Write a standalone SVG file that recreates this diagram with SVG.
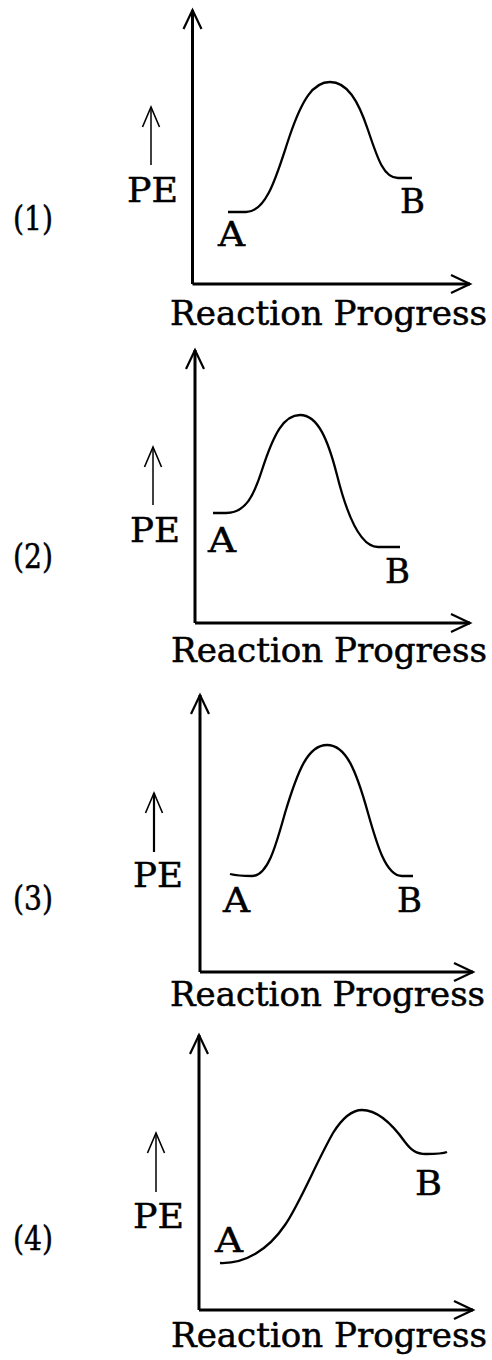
<svg xmlns="http://www.w3.org/2000/svg" width="492" height="1360" viewBox="0 0 492 1360">
<style>
.ax{stroke:#000;stroke-width:3;fill:none;marker-end:url(#ah)}
.pe{stroke:#000;stroke-width:1.5;fill:none;marker-end:url(#ahs)}
.cv{stroke:#000;stroke-width:2.3;fill:none;stroke-linecap:butt;stroke-linejoin:round}
text{font-family:"DejaVu Serif","Liberation Serif",serif;font-size:34px;fill:#000;stroke:#000;stroke-width:0.5}
.rp{font-size:33px}
</style>
<defs>
<marker id="ah" markerUnits="userSpaceOnUse" markerWidth="30" markerHeight="30" orient="auto" overflow="visible">
<path d="M-19,-9 L0,0 L-19,9" fill="none" stroke="#000" stroke-width="2.2" stroke-linejoin="miter"/>
</marker>
<marker id="ahs" markerUnits="userSpaceOnUse" markerWidth="30" markerHeight="30" orient="auto" overflow="visible">
<path d="M-20,-8.5 L0,0 L-20,8.5" fill="none" stroke="#000" stroke-width="1.6"/>
</marker>
</defs>

<g id="panel1">
<text x="13" y="230" textLength="40" lengthAdjust="spacingAndGlyphs">(1)</text>
<line class="pe" x1="151" y1="165" x2="151" y2="107"/>
<text x="127" y="202" textLength="51" lengthAdjust="spacingAndGlyphs">PE</text>
<text x="218" y="246" textLength="27" lengthAdjust="spacingAndGlyphs">A</text>
<text x="400" y="213" textLength="25" lengthAdjust="spacingAndGlyphs">B</text>
<text class="rp" x="170" y="325" textLength="317" lengthAdjust="spacingAndGlyphs">Reaction Progress</text>
</g>
<g id="panel2">
<text x="13" y="568" textLength="40" lengthAdjust="spacingAndGlyphs">(2)</text>
<line class="pe" x1="153" y1="505" x2="153" y2="447"/>
<text x="130" y="542" textLength="50" lengthAdjust="spacingAndGlyphs">PE</text>
<text x="208" y="552" textLength="28" lengthAdjust="spacingAndGlyphs">A</text>
<text x="385" y="583" textLength="25" lengthAdjust="spacingAndGlyphs">B</text>
<text class="rp" x="171" y="662" textLength="316" lengthAdjust="spacingAndGlyphs">Reaction Progress</text>
</g>
<g id="panel3">
<text x="13" y="910" textLength="40" lengthAdjust="spacingAndGlyphs">(3)</text>
<line class="pe" x1="154" y1="852" x2="154" y2="793" style="stroke-width:2.2"/>
<text x="133" y="887" textLength="50" lengthAdjust="spacingAndGlyphs">PE</text>
<text x="223" y="912" textLength="27" lengthAdjust="spacingAndGlyphs">A</text>
<text x="397" y="912" textLength="25" lengthAdjust="spacingAndGlyphs">B</text>
<text class="rp" x="170" y="1006" textLength="315" lengthAdjust="spacingAndGlyphs">Reaction Progress</text>
</g>
<g id="panel4">
<text x="13" y="1250" textLength="40" lengthAdjust="spacingAndGlyphs">(4)</text>
<line class="pe" x1="156" y1="1192" x2="156" y2="1133"/>
<text x="133" y="1228" textLength="51" lengthAdjust="spacingAndGlyphs">PE</text>
<text x="215" y="1252" textLength="28" lengthAdjust="spacingAndGlyphs">A</text>
<text x="415" y="1195" textLength="27" lengthAdjust="spacingAndGlyphs">B</text>
<text class="rp" x="171" y="1347" textLength="316" lengthAdjust="spacingAndGlyphs">Reaction Progress</text>
</g>

<g id="connectors">
<polyline class="ax" points="192.5,284 192.5,10"/>
<polyline class="ax" points="192.5,284 470,284"/>
<path class="cv" d="M228,212 H246 C268,212 278,170 290,135 C302,100 313,82 330,82 C347,82 358,100 368,130 C378,160 384,178 398,178 H412"/>

<polyline class="ax" points="195,623 195,350"/>
<polyline class="ax" points="195,623 470,623"/>
<path class="cv" d="M213,513 H226 C246,513 254,495 262,470 C274,433 284,415 300,415 C318,415 328,440 337,475 C347,515 360,547 378,547 H400"/>

<polyline class="ax" points="200,972 200,695"/>
<polyline class="ax" points="200,972 473,972"/>
<path class="cv" d="M230,874 C238,876 246,876 252,876 C268,876 276,845 285,813 C298,770 308,745 327,745 C346,745 356,770 368,813 C377,845 386,876 402,876 H413"/>

<polyline class="ax" points="199,1310 199,1035"/>
<polyline class="ax" points="199,1310 473,1310"/>
<path class="cv" d="M220,1263 C245,1264 268,1250 285,1225 C300,1203 315,1165 333,1133 C343,1117 352,1110 362,1110 C380,1110 395,1128 405,1142 C411,1150 416,1154 426,1154 C435,1154 442,1154 447,1152"/>
</g>
</svg>
